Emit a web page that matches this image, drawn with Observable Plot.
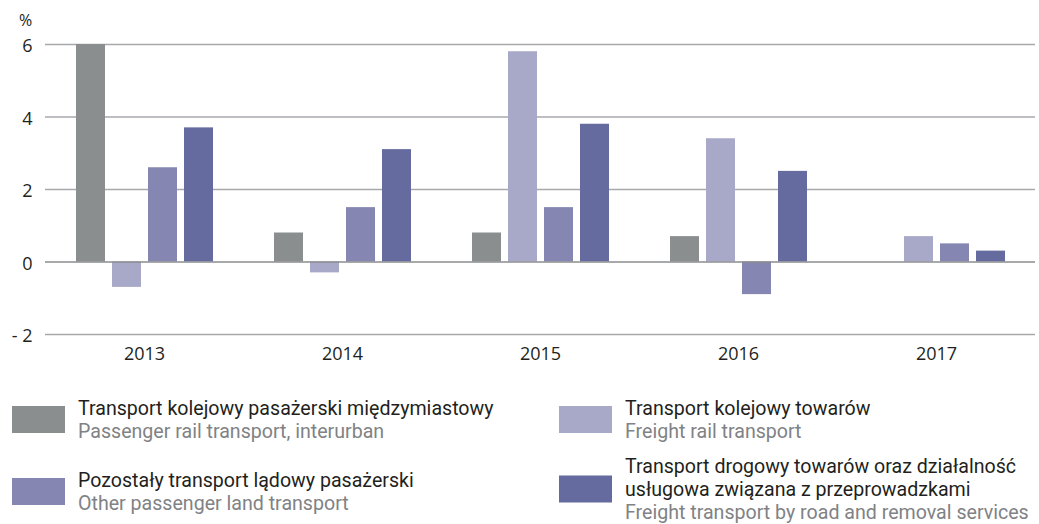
<!DOCTYPE html>
<html>
<head>
<meta charset="utf-8">
<script src="https://cdn.jsdelivr.net/npm/d3@7"></script>
<script src="https://cdn.jsdelivr.net/npm/@observablehq/plot@0.6"></script>
<style>
  html, body { margin: 0; padding: 0; background: #fff; }
  #wrap { position: relative; width: 1039px; height: 524px; font-family: "Open Sans", sans-serif; overflow: hidden; }
  #pct { position: absolute; left: 19px; top: 9px; font-size: 16px; color: #231f20; }
  .item { position: absolute; display: flex; align-items: center; transform: translateY(-50%); }
  .sw { width: 53px; height: 27px; flex: none; margin-right: 13px; }
  .txt { white-space: pre-line; font-family: Roboto, sans-serif; font-size: 19.6px; line-height: 23px; }
  .pl { color: #231f20; }
  .en { color: #808285; }
</style>
</head>
<body>
<div id="wrap">
  <div id="chart"></div>
  <div id="pct">%</div>
  <div id="legend"></div>
</div>
<script>
const years = ["2013", "2014", "2015", "2016", "2017"];
const seriesKeys = ["railPass", "railFreight", "otherPass", "roadFreight"];
const seriesColors = ["#8a8e8f", "#a8a8c8", "#8586b1", "#656b9e"];
const labelsPL = [
  "Transport kolejowy pasażerski międzymiastowy",
  "Transport kolejowy towarów",
  "Pozostały transport lądowy pasażerski",
  "Transport drogowy towarów oraz działalność\nusługowa związana z przeprowadzkami"
];
const labelsEN = [
  "Passenger rail transport, interurban",
  "Freight rail transport",
  "Other passenger land transport",
  "Freight transport by road and removal services"
];
const railPass    = [6.0, 0.8, 0.8, 0.7, null];
const railFreight = [-0.7, -0.3, 5.8, 3.4, 0.7];
const otherPass   = [2.6, 1.5, 1.5, -0.9, 0.5];
const roadFreight = [3.7, 3.1, 3.8, 2.5, 0.3];
const yTicks = [-2, 0, 2, 4, 6];

const seriesValues = [railPass, railFreight, otherPass, roadFreight];
const data = [];
years.forEach((yr, i) => {
  seriesKeys.forEach((k, j) => {
    const v = seriesValues[j][i];
    if (v != null) data.push({year: yr, series: k, value: v});
  });
});

const chart = Plot.plot({
  width: 1039,
  height: 370,
  marginLeft: 45,
  marginRight: 4,
  marginTop: 44,
  marginBottom: 36,
  style: {fontFamily: "Open Sans, sans-serif", fontSize: "18px", color: "#231f20", background: "#fff"},
  fx: {domain: years, padding: 0, label: null, axis: null},
  x: {domain: seriesKeys, paddingInner: 7/36, paddingOuter: 0.847, axis: null},
  y: {domain: [-2, 6], axis: null},
  color: {domain: seriesKeys, range: seriesColors},
  marks: [
    Plot.ruleY(yTicks.filter(d => d !== 0), {stroke: "#a7a9ac", strokeWidth: 1.3}),
    Plot.barY(data, {fx: "year", x: "series", y: "value", fill: "series"}),
    Plot.ruleY([0], {stroke: "#8a8c8e", strokeWidth: 1.3}),
    Plot.axisFx({anchor: "bottom", tickSize: 0, tickPadding: 13, label: null, fontSize: 18}),
    Plot.axisY(yTicks, {anchor: "left", tickSize: 0, tickPadding: 13, label: null, fontSize: 18, dy: 2,
      tickFormat: d => d < 0 ? "- " + Math.abs(d) : String(d)})
  ]
});
document.getElementById("chart").appendChild(chart);

const pos = [
  {left: 12, cy: 419.5},
  {left: 559, cy: 419.5},
  {left: 12, cy: 491.5},
  {left: 559, cy: 489}
];
const legend = document.getElementById("legend");
seriesKeys.forEach((k, i) => {
  const item = document.createElement("div");
  item.className = "item";
  item.style.left = pos[i].left + "px";
  item.style.top = pos[i].cy + "px";
  const sw = document.createElement("div");
  sw.className = "sw";
  sw.style.background = seriesColors[i];
  item.appendChild(sw);
  const t = document.createElement("div");
  t.className = "txt";
  const a = document.createElement("div");
  a.className = "pl";
  a.textContent = labelsPL[i];
  const b = document.createElement("div");
  b.className = "en";
  b.textContent = labelsEN[i];
  t.appendChild(a);
  t.appendChild(b);
  item.appendChild(t);
  legend.appendChild(item);
});
</script>
</body>
</html>
